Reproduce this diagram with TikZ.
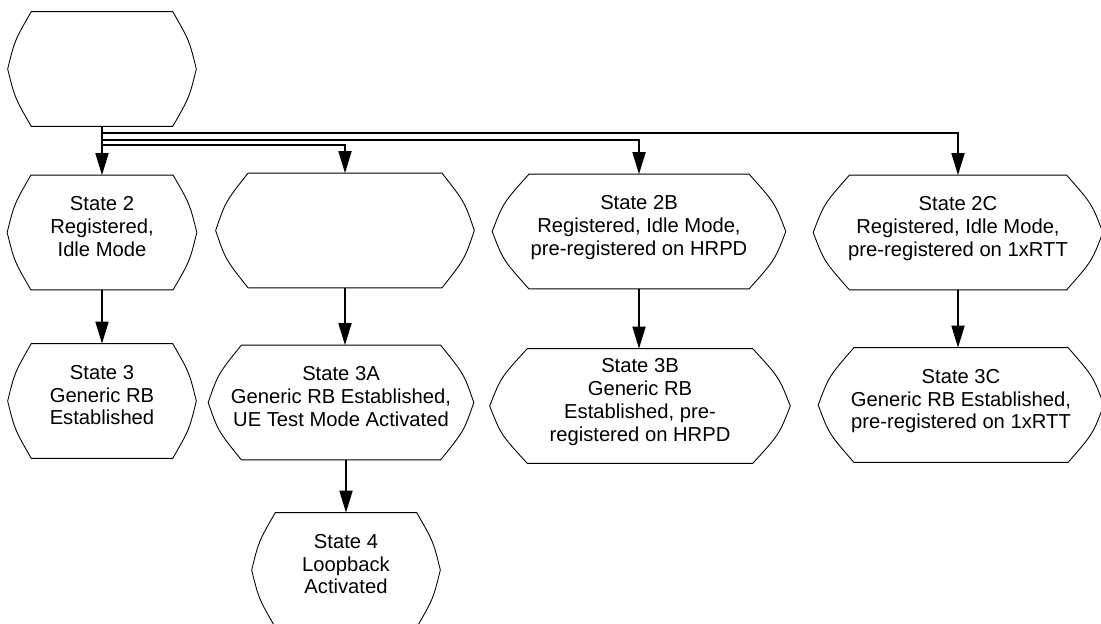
\documentclass[tikz,border=0pt]{standalone}
\usepackage{fontspec}
\setmainfont{Liberation Sans}
\usetikzlibrary{arrows.meta,calc}

\tikzset{
    stbox/.style={minimum width=#1, minimum height=2.28cm, inner sep=0pt,
        align=center, font=\fontsize{11.5}{13}\selectfont, text depth=0.24cm},
    stbox/.default=3.76cm,
    rim/.style={line width=0.5pt},
    flow/.style={line width=1pt, -{Triangle[length=0.44cm,width=0.26cm]}}
}

\begin{document}
\begin{tikzpicture}[x=0.02cm,y=-0.02cm]

    \useasboundingbox (0,0) rectangle (1101,623);

    \node (start) [stbox]        at (102,69)    {};
    \node (st2)   [stbox=3.78cm] at (102,232.5) {State 2\\Registered,\\Idle Mode};
    \node (st3)   [stbox]        at (102,401)   {State 3\\Generic RB\\Established};

    \node (st2a)  [stbox=5.16cm] at (345,230.5) {};
    \node (st3a)  [stbox=5.3cm]  at (341,402.5) {State 3A\\Generic RB Established,\\UE Test Mode Activated};
    \node (st4)   [stbox]        at (346,570)   {State 4\\Loopback\\Activated};

    \node (st2b)  [stbox=5.86cm] at (639,231.5) {State 2B\\Registered, Idle Mode,\\pre-registered on HRPD};
    \node (st3b)  [stbox=6.0cm]  at (640,406)   {State 3B\\Generic RB\\Established, pre-\\registered on HRPD};

    \node (st2c)  [stbox=5.78cm] at (958,232.5) {State 2C\\Registered, Idle Mode,\\pre-registered on 1xRTT};
    \node (st3c)  [stbox=5.7cm]  at (961,405)   {State 3C\\Generic RB Established,\\pre-registered on 1xRTT};

    \foreach \s in {start,st2,st3,st2a,st3a,st4,st2b,st3b,st2c,st3c} {
        \draw[rim] let \p1=(\s.north west), \p2=(\s.south east), \n1={0.125*(\x2-\x1)} in
            ({\x1+\n1},\y1) -- ({\x2-\n1},\y1)
            .. controls ({\x2-0.3*\n1},{\y1-0.25*(\y1-\y2)}) .. (\x2,{0.5*(\y1+\y2)})
            .. controls ({\x2-0.3*\n1},{\y2+0.25*(\y1-\y2)}) .. ({\x2-\n1},\y2)
            -- ({\x1+\n1},\y2)
            .. controls ({\x1+0.3*\n1},{\y2+0.25*(\y1-\y2)}) .. (\x1,{0.5*(\y1+\y2)})
            .. controls ({\x1+0.3*\n1},{\y1-0.25*(\y1-\y2)}) .. cycle;
    }

    \draw[flow] (start.south) -- (st2.north);
    \draw[flow] (start.south) -- ++(0,7) -| (st2c.north);
    \draw[flow] (start.south) -- ++(0,13.5) -| (st2b.north);
    \draw[flow] (start.south) -- ++(0,19) -| (st2a.north);

    \draw[flow] (st2.south) -- (st3.north);
    \draw[flow] (st2a.south) -- (st2a.south |- st3a.north);
    \draw[flow] (st3a.south -| st4.north) -- (st4.north);
    \draw[flow] (st2b.south) -- (st2b.south |- st3b.north);
    \draw[flow] (st2c.south) -- (st2c.south |- st3c.north);

\end{tikzpicture}
\end{document}
